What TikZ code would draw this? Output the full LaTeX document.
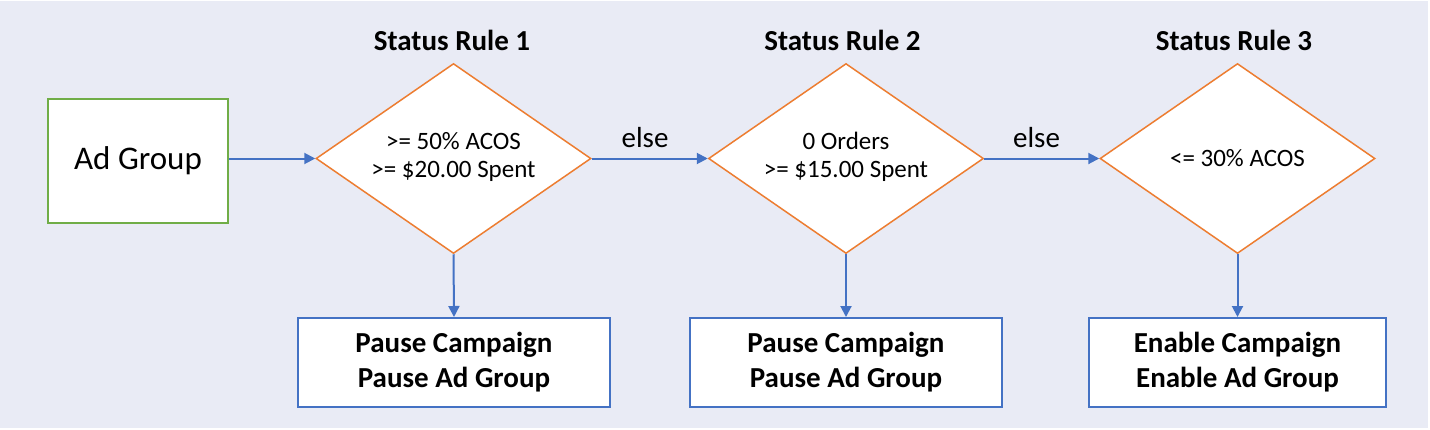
\documentclass[tikz,border=0pt]{standalone}
\usepackage{fontspec}
\setmainfont{Carlito}
\usetikzlibrary{shapes.geometric,arrows.meta}
\definecolor{bgc}{HTML}{E9EBF5}
\definecolor{blu}{HTML}{4472C4}
\definecolor{org}{HTML}{ED7D31}
\definecolor{grn}{HTML}{70AD47}
\tikzset{
  dec/.style={diamond, draw=org, line width=0.75pt, fill=white, aspect=1.447,
    minimum width=137.5pt, minimum height=95pt, inner sep=0pt, align=center,
    font=\fontsize{12.5}{14}\selectfont},
  actbox/.style={rectangle, draw=blu, line width=1pt, fill=white, minimum height=44.5pt,
    align=center, font=\fontsize{14.5}{17.5}\selectfont\bfseries},
  title/.style={font=\fontsize{14.5}{17}\selectfont\bfseries},
  lbl/.style={font=\fontsize{14.5}{17}\selectfont},
  conn/.style={draw=blu, line width=1pt, -{Triangle[length=5.5pt,width=5.5pt]}}
}
\begin{document}
\begin{tikzpicture}[x=0.5pt,y=-0.5pt]
\useasboundingbox (0,0) rectangle (1430,429);
\fill[white] (0,0) rectangle (1430,429);
\fill[bgc] (0,1) rectangle (1428,428);
\node[rectangle, draw=grn, line width=1pt, fill=white, minimum width=90pt, minimum height=62pt,
  font=\fontsize{16.5}{20}\selectfont] (ag) at (138,160.5) {Ad Group};
\node[dec] (d1) at (453.5,158.5) {>= 50\% ACOS\\>= \$20.00 Spent\\[-10pt]\mbox{}};
\node[dec] (d2) at (846,158.5) {0 Orders\\>= \$15.00 Spent\\[-10pt]\mbox{}};
\node[dec] (d3) at (1237.5,158.5) {<= 30\% ACOS};
\node[title] (t1) at (452,40) {Status Rule 1};
\node[title] (t2) at (842.5,40) {Status Rule 2};
\node[title] (t3) at (1234,40) {Status Rule 3};
\node[actbox, minimum width=156pt] (b1) at (454,362.5) {Pause Campaign\\Pause Ad Group};
\node[actbox, minimum width=156pt] (b2) at (846,362.5) {Pause Campaign\\Pause Ad Group};
\node[actbox, minimum width=148.5pt] (b3) at (1237.5,362.5) {Enable Campaign\\Enable Ad Group};
\node[lbl] (e1) at (645,138) {else};
\node[lbl] (e2) at (1036.5,138) {else};
\draw[conn] (ag.east |- d1.west) -- (d1.west);
\draw[conn] (d1.east) -- (d2.west);
\draw[conn] (d2.east) -- (d3.west);
\draw[conn] (d1.south) -- (b1.north);
\draw[conn] (d2.south) -- (b2.north);
\draw[conn] (d3.south) -- (b3.north);
\end{tikzpicture}
\end{document}
